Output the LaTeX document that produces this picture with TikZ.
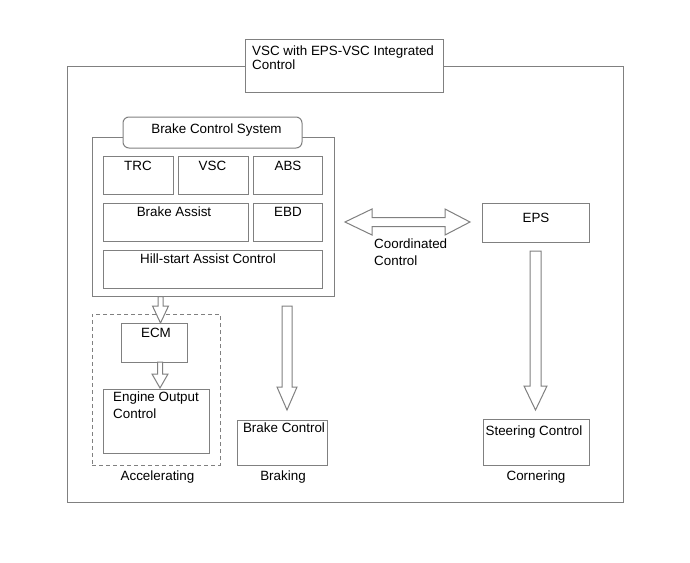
\documentclass[tikz,border=0pt]{standalone}
\usepackage{fontspec}
\setmainfont{Liberation Sans}
\usetikzlibrary{calc}
\tikzset{
  ln/.style={draw=black!50, line width=1pt},
  box/.style={ln, rectangle, fill=white, inner sep=0pt, outer sep=0pt, anchor=north west},
  rbox/.style={box, rounded corners=6pt},
  dbox/.style={box, fill=none, dash pattern=on 4pt off 3pt},
  blk/.style={ln, fill=white, line join=miter},
  txt/.style={inner sep=0pt, anchor=base, font=\fontsize{13.4}{16}\selectfont},
  mtxt/.style={inner sep=0pt, anchor=north west, align=left, font=\fontsize{13.4}{16}\selectfont},
}
\newcommand{\mkbox}[6]{\node[#1, minimum width=#5pt-#3pt, minimum height=#6pt-#4pt] (#2) at (#3,#4) {};}
\newcommand{\downblock}[5]{%
  \draw[blk] let \p1=(#1), \p2=(#2) in
    (\x1-#3pt,\y1) -- (\x1-#3pt,\y2+#5pt) -- (\x1-#4pt,\y2+#5pt) -- (\x2,\y2)
    -- (\x1+#4pt,\y2+#5pt) -- (\x1+#3pt,\y2+#5pt) -- (\x1+#3pt,\y1) -- cycle;}
\begin{document}
\begin{tikzpicture}[x=1pt, y=-1pt]
\useasboundingbox (0,0) rectangle (690,562);
% outer frame and title
\mkbox{box}{outer}{67}{66}{623}{502}
\mkbox{box}{title}{245}{39}{443}{92}
\node[mtxt] (titletxt) at (252,45.5) {VSC with EPS-VSC Integrated\\[-1.5pt]Control};
% brake control system
\mkbox{box}{brake}{92}{137}{334}{296}
\mkbox{rbox}{bcs}{123}{117}{302}{148}
\node[txt] (bcstxt) at (216.5,133) {Brake Control System};
\mkbox{box}{trc}{103}{156}{173}{194}
\mkbox{box}{vsc}{178}{156}{248}{194}
\mkbox{box}{abs}{253}{156}{322}{194}
\mkbox{box}{ba}{103}{203}{248}{241}
\mkbox{box}{ebd}{253}{203}{322}{241}
\mkbox{box}{hsa}{103}{250}{322}{288}
\node[txt] (trctxt) at (138,170) {TRC};
\node[txt] (vsctxt) at (212.5,170) {VSC};
\node[txt] (abstxt) at (288,170) {ABS};
\node[txt] (batxt) at (174,216) {Brake Assist};
\node[txt] (ebdtxt) at (288,216) {EBD};
\node[txt] (hsatxt) at (208,263) {Hill-start Assist Control};
% EPS
\mkbox{box}{eps}{482}{203}{589}{242}
\node[txt] (epstxt) at (536,222) {EPS};
% coordinated control double arrow
\coordinate (dl) at (345,222);
\coordinate (dr) at (470,222);
\draw[blk] let \p1=(dl), \p2=(dr) in
  (\p1) -- (\x1+27pt,\y1+13pt) -- (\x1+27pt,\y1+4.5pt) -- (\x2-25pt,\y1+4.5pt)
  -- (\x2-25pt,\y1+13pt) -- (\p2) -- (\x2-25pt,\y1-13pt) -- (\x2-25pt,\y1-4.5pt)
  -- (\x1+27pt,\y1-4.5pt) -- (\x1+27pt,\y1-13pt) -- cycle;
\node[mtxt] (cctxt) at (374,239) {Coordinated\\[0.5pt]Control};
% accelerating group
\mkbox{dbox}{acc}{92}{314}{220}{465}
\mkbox{box}{ecm}{121}{323}{187}{362}
\node[txt] (ecmtxt) at (156,337) {ECM};
\mkbox{box}{eoc}{103}{389}{209}{453}
\node[mtxt] (eoctxt) at (113,391.5) {Engine Output\\[1pt]Control};
\coordinate (a1t) at (160.5,296.5);
\coordinate (a1b) at (160.5,323);
\downblock{a1t}{a1b}{2.5}{8}{17}
\coordinate (a2t) at (160,362);
\coordinate (a2b) at (160,388);
\downblock{a2t}{a2b}{2.5}{8}{14}
\node[txt] (acctxt) at (157.5,480) {Accelerating};
% braking
\coordinate (a3t) at (287,306);
\coordinate (a3b) at (287,410);
\downblock{a3t}{a3b}{5}{10}{23}
\mkbox{box}{bc}{237}{420}{327}{465}
\node[txt] (bctxt) at (284,432) {Brake Control};
\node[txt] (brktxt) at (283,480) {Braking};
% cornering
\coordinate (a4t) at (535.5,251);
\coordinate (a4b) at (535.5,410);
\downblock{a4t}{a4b}{5.5}{11.5}{24}
\mkbox{box}{sc}{483}{419}{589}{465}
\node[txt] (sctxt) at (534,435) {Steering Control};
\node[txt] (cortxt) at (536,480) {Cornering};
\end{tikzpicture}
\end{document}
